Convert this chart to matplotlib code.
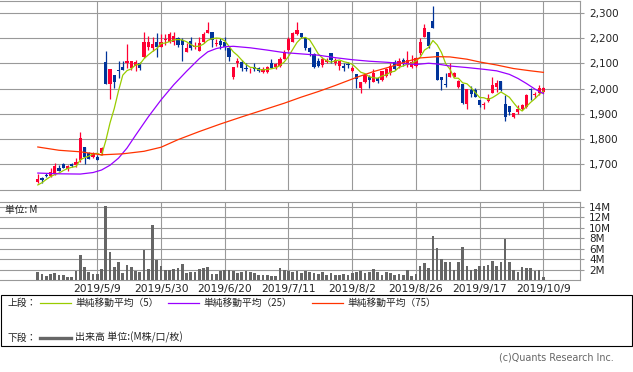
import matplotlib
matplotlib.use('Agg')
import matplotlib.pyplot as plt
from matplotlib.patches import Rectangle
from matplotlib.lines import Line2D
import numpy as np
import pandas as pd

# 日足データ (2019/4 ~ 2019/10/9, 120本)
opens = [1632, 1645, 1657, 1655, 1664, 1685, 1702, 1683, 1703, 1697,
         1718, 1769, 1744, 1731, 1728, 1744, 2105, 2019, 2054, 2073,
         2085, 2100, 2080, 2089, 2100, 2124, 2166, 2159, 2182, 2166,
         2191, 2185, 2182, 2199, 2192, 2146, 2188, 2163, 2150, 2182,
         2218, 2222, 2176, 2189, 2185, 2159, 2045, 2100, 2106, 2082,
         2064, 2084, 2080, 2064, 2067, 2102, 2087, 2091, 2116, 2153,
         2185, 2214, 2218, 2201, 2159, 2137, 2109, 2093, 2104, 2139,
         2100, 2089, 2089, 2097, 2070, 2058, 2001, 2027, 2045, 2027,
         2041, 2034, 2050, 2060, 2106, 2091, 2113, 2093, 2087, 2089,
         2139, 2205, 2225, 2267, 2146, 2047, 2018, 2047, 2047, 2005,
         2018, 1939, 1994, 1994, 1955, 1936, 1951, 1981, 2005, 2029,
         1938, 1932, 1886, 1907, 1919, 1926, 1997, 1974, 1981, 1988]
highs = [1664, 1652, 1665, 1685, 1705, 1697, 1705, 1698, 1706, 1724,
         1828, 1770, 1751, 1751, 1738, 1770, 2149, 2076, 2054, 2109,
         2109, 2175, 2109, 2113, 2106, 2222, 2208, 2205, 2218, 2214,
         2214, 2225, 2225, 2203, 2199, 2179, 2203, 2182, 2205, 2222,
         2263, 2222, 2195, 2199, 2205, 2166, 2084, 2120, 2113, 2100,
         2080, 2100, 2087, 2087, 2091, 2117, 2102, 2124, 2153, 2203,
         2224, 2263, 2221, 2201, 2163, 2139, 2120, 2124, 2120, 2139,
         2120, 2100, 2100, 2106, 2091, 2058, 2027, 2054, 2054, 2077,
         2047, 2070, 2080, 2100, 2113, 2120, 2122, 2149, 2133, 2126,
         2199, 2255, 2225, 2326, 2146, 2047, 2060, 2100, 2066, 2034,
         2018, 1997, 2010, 2001, 1955, 1948, 1977, 2044, 2034, 2029,
         1975, 1932, 1905, 1935, 1939, 1979, 2001, 1988, 2014, 2005]
lows = [1628, 1628, 1649, 1649, 1658, 1674, 1687, 1676, 1691, 1691,
        1711, 1701, 1723, 1724, 1716, 1738, 2019, 1960, 2004, 2041,
        2073, 2080, 2073, 2071, 2073, 2120, 2153, 2150, 2124, 2166,
        2172, 2179, 2172, 2166, 2110, 2143, 2153, 2155, 2150, 2179,
        2218, 2166, 2170, 2155, 2153, 2110, 2038, 2087, 2071, 2070,
        2060, 2071, 2064, 2060, 2060, 2080, 2077, 2087, 2116, 2150,
        2185, 2212, 2200, 2153, 2130, 2080, 2087, 2087, 2100, 2100,
        2093, 2073, 2070, 2080, 2064, 2001, 1984, 2021, 2001, 2027,
        2021, 2030, 2045, 2054, 2073, 2080, 2091, 2087, 2080, 2084,
        2133, 2205, 2162, 2241, 2034, 1994, 2008, 2045, 2045, 2001,
        1939, 1918, 1968, 1965, 1926, 1918, 1948, 1981, 1988, 1989,
        1873, 1896, 1882, 1900, 1915, 1922, 1955, 1961, 1975, 1984]
closes = [1643, 1639, 1655, 1669, 1694, 1674, 1687, 1695, 1695, 1709,
          1805, 1731, 1723, 1743, 1718, 1766, 2019, 2076, 2027, 2068,
          2075, 2109, 2109, 2106, 2080, 2185, 2185, 2176, 2163, 2182,
          2193, 2214, 2208, 2172, 2172, 2159, 2159, 2168, 2179, 2214,
          2232, 2192, 2181, 2172, 2166, 2124, 2084, 2109, 2080, 2079,
          2067, 2077, 2070, 2077, 2087, 2080, 2096, 2116, 2146, 2195,
          2221, 2232, 2203, 2159, 2146, 2087, 2091, 2117, 2113, 2113,
          2113, 2109, 2083, 2093, 2083, 2037, 2027, 2054, 2034, 2060,
          2030, 2070, 2076, 2089, 2076, 2109, 2096, 2113, 2106, 2120,
          2182, 2238, 2168, 2241, 2034, 2034, 2015, 2060, 2063, 2031,
          1944, 1997, 1979, 1968, 1935, 1939, 1964, 2014, 2021, 1994,
          1889, 1909, 1905, 1918, 1935, 1975, 1994, 1977, 2001, 2001]
# 出来高 (M株)
volumes = [1.6, 1.2, 0.9, 1.2, 1.4, 1.0, 1.0, 0.65, 0.65, 1.8,
           4.9, 2.6, 1.6, 1.2, 1.2, 2.2, 14.1, 5.4, 2.6, 3.5,
           1.4, 2.9, 2.6, 1.8, 1.6, 5.8, 2.2, 10.6, 3.9, 2.8,
           2.0, 2.0, 2.2, 2.4, 3.1, 1.4, 1.6, 1.6, 2.2, 2.4,
           2.6, 1.2, 1.2, 1.7, 2.0, 1.9, 1.8, 1.3, 1.6, 1.8,
           1.5, 1.3, 1.1, 1.1, 1.1, 0.85, 0.85, 2.3, 1.9, 1.7,
           1.6, 1.8, 1.4, 1.7, 1.6, 1.4, 1.2, 1.6, 1.0, 1.3,
           1.0, 1.0, 1.2, 1.1, 1.3, 1.6, 1.7, 1.4, 1.5, 2.2,
           1.5, 1.0, 1.5, 1.3, 1.0, 1.2, 1.0, 2.0, 0.9, 1.2,
           2.8, 3.3, 2.4, 8.4, 6.1, 4.0, 3.5, 3.5, 2.0, 3.5,
           6.4, 2.8, 1.9, 2.1, 2.8, 2.8, 3.0, 3.7, 2.8, 3.5,
           7.9, 3.5, 2.0, 1.6, 2.6, 2.4, 2.4, 1.8, 2.0, 0.6]

# 移動平均 (25, 75 は画面から読み取り)
ma5_head = [1619, 1628, 1641, 1652]
ma25_idx = [0, 5, 10, 13, 15, 17, 19, 21, 23, 26, 29, 32, 35, 38, 40, 42, 44, 46, 50, 54,
            58, 62, 66, 70, 74, 78, 82, 86, 89, 92, 94, 97, 101, 105, 108, 111, 113, 115, 117, 119]
ma25_val = [1666, 1663, 1662, 1668, 1678, 1697, 1725, 1765, 1815, 1888, 1955, 2015, 2068, 2118, 2145, 2158, 2165, 2167, 2161, 2152,
            2142, 2137, 2132, 2122, 2114, 2108, 2104, 2099, 2095, 2100, 2097, 2089, 2083, 2076, 2070, 2056, 2040, 2020, 1998, 1980]
ma75_idx = [0, 5, 10, 15, 20, 25, 29, 33, 38, 43, 48, 53, 58, 62, 66, 70, 75, 79, 83, 87,
            90, 94, 97, 101, 104, 108, 112, 116, 119]
ma75_val = [1769, 1756, 1750, 1738, 1742, 1752, 1768, 1798, 1830, 1860, 1888, 1915, 1942, 1966, 1988, 2012, 2044, 2067, 2086, 2108,
            2121, 2126, 2125, 2116, 2105, 2093, 2079, 2070, 2064]

tick_idx = [14, 29, 44, 59, 74, 89, 104, 119]
tick_labels = ['2019/5/9', '2019/5/30', '2019/6/20', '2019/7/11', '2019/8/2', '2019/8/26', '2019/9/17', '2019/10/9']

W, H = 633, 372
JP = ['Noto Sans CJK JP', 'DejaVu Sans']
GRID = '#999999'
UP, DOWN = '#ff0033', '#003399'

x = np.arange(len(closes))
o = np.array(opens)
c = np.array(closes)
ma5 = pd.Series(closes).rolling(5).mean().values
ma5[:4] = ma5_head

fig = plt.figure(figsize=(W / 100, H / 100), dpi=100)
ax1 = fig.add_axes([0, 1 - 190 / H, 579.5 / W, 189 / H])
ax2 = fig.add_axes([0, 1 - 280.3 / H, 579.5 / W, 78.6 / H])

# 上段: ローソク足
colors = [UP if cc >= oo else DOWN for oo, cc in zip(o, c)]
ax1.vlines(x, lows, highs, colors=colors, lw=0.9, zorder=3)
body = np.maximum(np.abs(c - o), 3)
ax1.bar(x, body, bottom=np.minimum(o, c), width=0.74, color=colors, lw=0, zorder=3)
ax1.plot(x, ma5, color='#99cc00', lw=0.9, zorder=4)
ax1.plot(ma25_idx, ma25_val, color='#9900ff', lw=0.9, zorder=4)
ax1.plot(ma75_idx, ma75_val, color='#ff3300', lw=0.9, zorder=4)

ax1.set_xlim(-8.9, 127.5)
ax1.set_ylim(1599, 2346)
ax1.set_yticks(range(1700, 2301, 100))
ax1.set_yticklabels(['{:,}'.format(v) for v in range(1700, 2301, 100)])
ax1.set_xticks(tick_idx)
ax1.set_xticklabels([])

# 下段: 出来高
ax2.bar(x, volumes, width=0.62, color='#666666', lw=0, zorder=3)
ax2.set_xlim(-8.9, 127.5)
ax2.set_ylim(0, 14.95)
ax2.set_yticks(range(2, 15, 2))
ax2.set_yticklabels(['{}M'.format(v) for v in range(2, 15, 2)])
ax2.set_xticks(tick_idx)
ax2.set_xticklabels(tick_labels, fontsize=7.7, color='#222222')
ax2.text(5 / 579.5, 0.9, '単位: M', transform=ax2.transAxes, family=JP,
         fontsize=7, va='center', ha='left', color='#222222')

for ax in (ax1, ax2):
    ax.yaxis.tick_right()
    ax.grid(True, color=GRID, lw=0.8, zorder=0)
    ax.set_axisbelow(True)
    ax.tick_params(axis='y', length=3, width=0.8, color=GRID, pad=4,
                   labelsize=7.5, labelcolor='#222222')
    ax.tick_params(axis='x', length=0, pad=3)
    ax.spines['left'].set_visible(False)
    for s in ('top', 'right', 'bottom'):
        ax.spines[s].set_color(GRID)
        ax.spines[s].set_linewidth(0.8)


def fx(px):
    return px / W


def fy(py):
    return 1 - py / H


# 凡例の枠
fig.add_artist(Rectangle((fx(0.5), fy(346)), fx(631.5), 51 / H, fill=False,
                         ec='black', lw=0.8, transform=fig.transFigure))

r1, r2 = 303.3, 337.5
fig.text(fx(8), fy(r1), '上段：', family=JP, fontsize=7, va='center', color='#222222')
items = [(40, 71, 75, '#99cc00', '単純移動平均（5）'),
         (168, 199, 203, '#9900ff', '単純移動平均（25）'),
         (312, 343, 347, '#ff3300', '単純移動平均（75）')]
for x0, x1, tx, col, label in items:
    fig.add_artist(Line2D([fx(x0), fx(x1)], [fy(r1), fy(r1)], color=col, lw=0.9,
                          transform=fig.transFigure))
    fig.text(fx(tx), fy(r1), label, family=JP, fontsize=7, va='center', color='#222222')

fig.text(fx(8), fy(r2), '下段：', family=JP, fontsize=7, va='center', color='#222222')
fig.add_artist(Line2D([fx(40), fx(71)], [fy(r2), fy(r2)], color='#666666', lw=2.4,
                      transform=fig.transFigure))
fig.text(fx(75), fy(r2), '出来高 単位:(M株/口/枚)', family=JP, fontsize=7.2, va='center', color='#222222')

fig.text(fx(614), fy(358), '(c)Quants Research Inc.', fontsize=6.9, ha='right', va='center', color='#666666')

fig.savefig('out.png', dpi=100)
